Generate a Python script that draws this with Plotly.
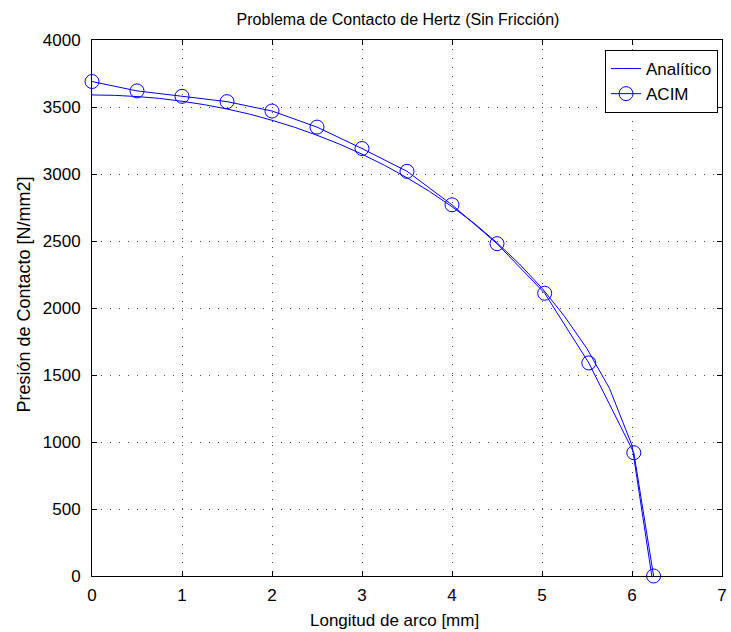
import plotly.graph_objects as go

# Analytical Hertz pressure distribution (sampled values)
x_analitico = [0.0, 0.25, 0.5, 0.75, 1.0, 1.25, 1.5, 1.75, 2.0, 2.25, 2.5, 2.75, 3.0,
               3.25, 3.5, 3.75, 4.0, 4.25, 4.5, 4.75, 5.0, 5.25, 5.5, 5.75, 6.0, 6.22]
p_analitico = [3590, 3587, 3578, 3564, 3543, 3517, 3485, 3447, 3401, 3349, 3289, 3223, 3148,
               3065, 2972, 2870, 2756, 2630, 2487, 2328, 2148, 1938, 1696, 1400, 975, 0]

# ACIM numerical results
x_acim = [0.0, 0.5, 1.0, 1.5, 2.0, 2.5, 3.0, 3.5, 4.0, 4.5, 5.03, 5.52, 6.02, 6.24]
p_acim = [3690, 3620, 3580, 3540, 3470, 3350, 3190, 3020, 2770, 2480, 2110, 1590, 920, 0]

x_ticks = [0, 1, 2, 3, 4, 5, 6, 7]
y_ticks = [0, 500, 1000, 1500, 2000, 2500, 3000, 3500, 4000]

azul = "rgb(0,0,255)"
fuente = "Liberation Sans, Arial, sans-serif"

W, H = 731, 632
L, R, T, B = 92, 4, 40, 56

fig = go.Figure()
fig.add_trace(go.Scatter(
    x=x_analitico, y=p_analitico, mode="lines", name="Analítico",
    line=dict(color=azul, width=1),
))
fig.add_trace(go.Scatter(
    x=x_acim, y=p_acim, mode="lines+markers", name="ACIM",
    line=dict(color=azul, width=1),
    marker=dict(symbol="circle-open", size=14, color=azul, line=dict(width=1, color=azul)),
    cliponaxis=False,
))

axis_common = dict(
    showline=True, linecolor="black", linewidth=1, mirror="ticks",
    ticks="inside", ticklen=5, tickcolor="black",
    showgrid=True, gridcolor="#444444", griddash="1px,8px", gridwidth=1,
    zeroline=False, ticklabeloverflow="allow",
    tickfont=dict(family=fuente, size=17, color="black"),
)

def px_x(p):
    return (p - L) / (W - L - R)

def px_y(p):
    return (H - B - p) / (H - T - B)

fig.update_layout(
    width=W, height=H,
    margin=dict(l=L, r=R, t=T, b=B),
    paper_bgcolor="white", plot_bgcolor="white",
    title=dict(
        text="Problema de Contacto de Hertz (Sin Fricción)",
        font=dict(family=fuente, size=16, color="black"),
        x=398 / W, xanchor="center", y=1 - 19 / H, yanchor="middle",
    ),
    xaxis=dict(range=[0, 7], tickvals=x_ticks, ticklabelstandoff=4, **axis_common),
    yaxis=dict(range=[0, 4000], tickvals=y_ticks, ticklabelstandoff=7, **axis_common),
    legend=dict(
        x=px_x(723), y=px_y(50), xanchor="right", yanchor="top",
        bgcolor="white", bordercolor="black", borderwidth=1,
        font=dict(family=fuente, size=17, color="black"),
        tracegroupgap=0,
    ),
    showlegend=True,
    annotations=[
        dict(text="Longitud de arco [mm]", xref="paper", yref="paper",
             x=px_x(397), y=px_y(620), xanchor="center", yanchor="middle",
             showarrow=False, font=dict(family=fuente, size=17, color="black")),
        dict(text="Presión de Contacto [N/mm2]", xref="paper", yref="paper",
             x=px_x(23), y=px_y(295), xanchor="center", yanchor="middle", textangle=-90,
             showarrow=False, font=dict(family=fuente, size=18, color="black")),
    ],
)

fig.write_html("out.html")
